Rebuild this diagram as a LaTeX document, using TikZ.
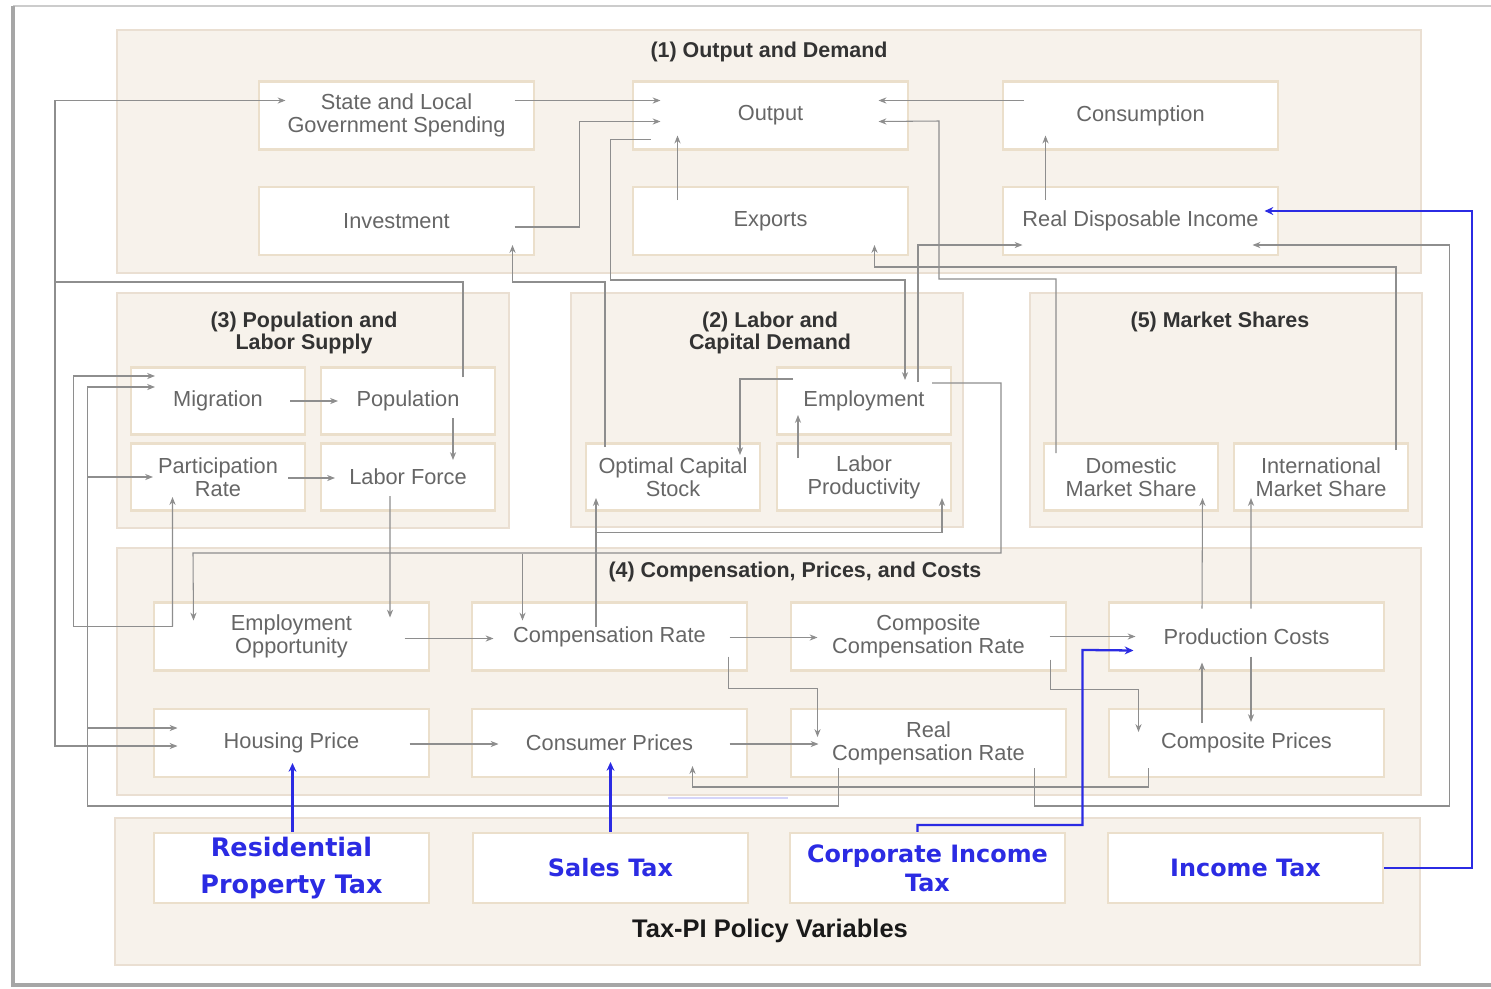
\documentclass[tikz,border=0pt]{standalone}
\usepackage{fontspec}
\setmainfont{Liberation Sans}
\newfontfamily\taxfam{DejaVu Sans}
\usetikzlibrary{arrows.meta,calc}
\definecolor{grpfill}{HTML}{F7F2EB}
\definecolor{grpline}{HTML}{EADFD2}
\definecolor{boxline}{HTML}{EBDFCB}
\definecolor{boxtext}{HTML}{666666}
\definecolor{linegray}{HTML}{8E8E8E}
\definecolor{taxblue}{HTML}{2B2BE3}
\definecolor{titletext}{HTML}{333333}

\begin{document}
\begin{tikzpicture}[x=0.02cm, y=-0.02cm,
        grp/.style={draw=grpline, fill=grpfill, line width=1.2pt},
        box/.style={draw=boxline, fill=white, line width=1.2pt, minimum width=5.5cm,
            minimum height=1.36cm, inner sep=1pt, align=center, text=boxtext,
            font=\fontsize{12.4}{13.2}\selectfont},
        sbox/.style={box, minimum width=3.48cm, minimum height=1.34cm},
        taxbox/.style={box, minimum height=1.4cm, text=taxblue,
            font=\taxfam\bfseries\fontsize{13.6}{16.5}\selectfont},
        ttl/.style={text=titletext, align=center,
            font=\bfseries\fontsize{12.2}{13}\selectfont},
        arr/.style={draw=linegray, line width=0.6pt,
            -{Stealth[length=4.5pt,width=3.5pt]}},
        barr/.style={draw=taxblue, line width=1.3pt,
            -{Stealth[length=5pt,width=4.5pt]}}]
    \useasboundingbox (0,0) rectangle (1491,988);

    % frame
    \draw[black!20, line width=1pt] (13,6) -- (1491,6);
    \draw[black!35, line width=1.8pt] (13,6) -- (13,985) -- (1491,985);

    % groups
    \draw[grp] (117,30) rectangle (1421,273);
    \draw[grp] (117,293) rectangle (509,528);
    \draw[grp] (571,293) rectangle (963,527);
    \draw[grp] (1030,293) rectangle (1422,527);
    \draw[grp] (117,548) rectangle (1421,795);
    \draw[grp] (115,818) rectangle (1420,965);

    \node[ttl] (t1) at (769,52) {(1) Output and Demand};
    \node[ttl] (t3) at (304,333) {(3) Population and\\Labor Supply};
    \node[ttl] (t2) at (770,333) {(2) Labor and\\Capital Demand};
    \node[ttl] (t5) at (1220,322) {(5) Market Shares};
    \node[ttl] (t4) at (795,572) {(4) Compensation, Prices, and Costs};
    \node[ttl, text=black!90, font=\bfseries\fontsize{14.5}{16}\selectfont]
        (t6) at (770,931) {Tax-PI Policy Variables};

    \node[box] (slgs) at (396.5,115.5) {State and Local\\Government Spending};
    \node[box] (out) at (770.5,115.5) {Output};
    \node[box] (cons) at (1140.5,115.5) {Consumption};
    \node[box] (inv) at (396.5,221) {Investment};
    \node[box] (exp) at (770.5,221) {Exports};
    \node[box] (rdi) at (1140.5,221) {Real Disposable Income};

    \node[sbox] (mig) at (218,401) {Migration};
    \node[sbox] (pop) at (408,401) {Population};
    \node[sbox] (part) at (218,477) {Participation\\Rate};
    \node[sbox] (lab) at (408,477) {Labor Force};

    \node[sbox] (emp) at (864,401) {Employment};
    \node[sbox] (ocs) at (673,477) {Optimal Capital\\Stock};
    \node[sbox] (lprod) at (864,477) {Labor\\Productivity};

    \node[sbox] (dms) at (1131,477) {Domestic\\Market Share};
    \node[sbox] (ims) at (1321,477) {International\\Market Share};

    \node[box] (eopp) at (291.5,636.5) {Employment\\Opportunity};
    \node[box] (comp) at (609.5,636.5) {Compensation Rate};
    \node[box] (ccomp) at (928.5,636.5) {Composite\\Compensation Rate};
    \node[box] (pcost) at (1246.5,636.5) {Production Costs};
    \node[box] (house) at (291.5,743) {Housing Price};
    \node[box] (cprice) at (609.5,743) {Consumer Prices};
    \node[box] (rcomp) at (928.5,743) {Real\\Compensation Rate};
    \node[box] (cpri) at (1246.5,743) {Composite Prices};

    \node[taxbox, font=\taxfam\bfseries\fontsize{14.5}{21.5}\selectfont]
        (rpt) at (291.5,868) {Residential\\Property Tax};
    \node[taxbox] (stax) at (610.5,868) {Sales Tax};
    \node[taxbox] (cit) at (927.5,868) {Corporate Income\\Tax};
    \node[taxbox] (itax) at (1245.5,868) {Income Tax};

    % output and demand
    \draw[arr] ($(slgs)+(118,-15)$) -- ($(out)+(-110,-15)$);
    \draw[arr] ($(inv)+(118,6)$) -- ++(65,0) |- ($(out)+(-110,6)$);
    \draw[arr] ($(exp)+(-93,-21)$) -- ($(out)+(-93,20)$);
    \draw[arr] ($(cons)+(-117,-15)$) -- ($(out)+(108,-15)$);
    \draw[arr] ($(rdi)+(-95,-21)$) -- ($(cons)+(-95,20)$);

    \draw[arr] ($(dms)+(-75,-24)$) -- ++(0,-174) -| ++(-117,-158) -- ($(out)+(108,6)$);
    \draw[arr] ($(ims)+(75,-27)$) |- ($(exp)+(104,46)$) -- ($(exp)+(104,24)$);
    \draw[arr] ($(out)+(-120,24)$) -- ++(-40,0) |- ($(emp)+(41,-121)$) -- ($(emp)+(41,-21)$);
    \draw[arr] ($(emp)+(54,-19)$) |- ($(rdi)+(-118,24)$);
    \draw[arr] ($(ocs)+(-68,-30)$) |- ($(inv)+(116,61)$) -- ($(inv)+(116,24)$);

    % long loops on the left and right
    \draw[arr] ($(pop)+(55,-24)$) |- ++(-408,-95) |- ($(slgs)+(-111,-15)$);
    \draw[arr] ($(pop)+(55,-24)$) |- ++(-408,-95) |- ($(house)+(-114,3)$);
    \draw[arr] ($(eopp)+(-119,-10)$) -- ++(-99,0) |- ($(mig)+(-63,-25)$);
    \draw[arr] ($(eopp)+(-119,-10)$) -- ($(part)+(-45.5,20)$);
    \draw[arr] ($(rcomp)+(-90,25)$) |- ++(-751,38) coordinate (loopL) |- ($(mig)+(-63,-14)$);
    \draw[arr] (loopL |- part) -- ($(part)+(-65,0)$);
    \draw[arr] ($(loopL |- house)+(0,-15)$) -- ($(house)+(-114,-15)$);
    \draw[arr] ($(rcomp)+(106,25)$) |- ++(415,38) |- ($(rdi)+(112,24)$);

    % population and labor supply
    \draw[arr] ($(mig)+(72,0)$) -- ($(pop)+(-70,0)$);
    \draw[arr] ($(pop)+(45,17)$) -- ($(lab)+(45,-17)$);
    \draw[arr] ($(part)+(70,1)$) -- ($(lab)+(-73,1)$);
    \draw[arr] ($(lab)+(-18,19)$) -- ($(eopp)+(98.5,-19)$);

    % labor and capital demand
    \draw[arr] ($(emp)+(-71,-22)$) -| ($(ocs)+(67,-22)$);
    \draw[arr] ($(lprod)+(-66,-19)$) -- ($(emp)+(-66,14)$);
    \draw[arr] ($(emp)+(68,-18)$) -- ++(69,0) |- ++(-808,170) -- ($(eopp)+(-98,-16)$);
    \draw[arr] ($(comp)+(-87,-83)$) -- ($(comp)+(-87,-16)$);
    \draw[arr] ($(comp)+(-13.5,-10)$) -- ($(ocs)+(-77,21)$);
    \draw[arr] ($(comp)+(-13.5,-104)$) -| ($(lprod)+(78,21)$);

    % compensation, prices and costs
    \draw[arr] ($(eopp)+(113,2)$) -- ($(comp)+(-116,2)$);
    \draw[arr] ($(house)+(118,1)$) -- ($(cprice)+(-111,1)$);
    \draw[arr] ($(comp)+(120,1)$) -- ($(ccomp)+(-111,1)$);
    \draw[arr] ($(comp)+(119,20)$) |- ++(89,32) -- ($(rcomp)+(-111,-6)$);
    \draw[arr] ($(cprice)+(120,1)$) -- ($(rcomp)+(-110,1)$);
    \draw[arr] ($(ccomp)+(121,0)$) -- ($(pcost)+(-111,0)$);
    \draw[arr] ($(ccomp)+(122,23)$) |- ++(88,30) -- ($(cpri)+(-108,-11)$);
    \draw[arr] ($(cpri)+(-44.5,-20)$) -- ($(pcost)+(-44.5,26)$);
    \draw[arr] ($(pcost)+(4.5,20)$) -- ($(cpri)+(4.5,-21)$);
    \draw[arr] ($(pcost)+(-44.5,-28)$) -- ($(dms)+(71.5,21)$);
    \draw[arr] ($(pcost)+(4.5,-28)$) -- ($(ims)+(-70,21)$);
    \draw[arr] ($(cpri)+(-98,25)$) |- ($(cprice)+(83,44)$) -- ($(cprice)+(83,23)$);

    \draw[taxblue!20, line width=1pt] (668,798) -- (788,798);

    % policy variables
    \draw[barr] ($(rpt.north)+(1,0)$) -- ($(house)+(1,20)$);
    \draw[barr] (stax.north) -- ($(cprice)+(1,19)$);
    \draw[barr] ($(cit.north)+(-10,0)$) -- ++(0,-7) -| ++(165,-175) -- ($(pcost)+(-113,14)$);
    \draw[barr] (itax.east) -- ++(88,0) |- ($(rdi)+(124,-10)$);
\end{tikzpicture}
\end{document}
